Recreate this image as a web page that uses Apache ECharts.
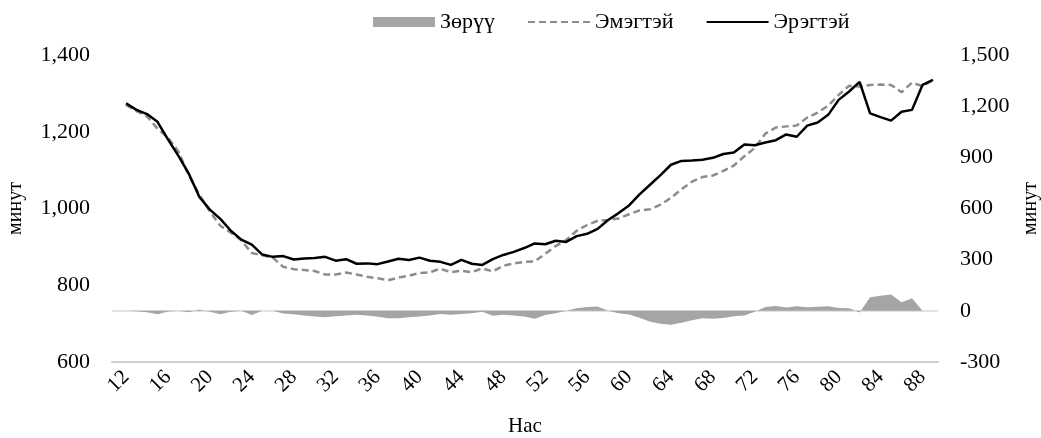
<!DOCTYPE html>
<html>
<head>
<meta charset="utf-8">
<script src="https://cdn.jsdelivr.net/npm/echarts@6/dist/echarts.min.js"></script>
<style>
html,body{margin:0;padding:0;background:#fff;}
#chart{width:1041px;height:438px;}
</style>
</head>
<body>
<div id="chart"></div>
<script>
// Ages 12..89
const ages = [];
for (let a = 12; a <= 89; a++) ages.push(a);
const xTickLabels = [12,16,20,24,28,32,36,40,44,48,52,56,60,64,68,72,76,80,84,88];

const seriesNames = ['Зөрүү', 'Эмэгтэй', 'Эрэгтэй'];

const male = [1274,1257,1246,1226,1180,1137,1090,1030,997,973,
  942,919,906,880,874,876,867,870,871,874,
  864,868,856,857,855,862,869,866,872,864,
  861,853,866,856,853,868,879,887,897,909,
  907,916,913,928,934,947,970,988,1008,1037,
  1062,1087,1114,1124,1125,1127,1132,1142,1146,1167,
  1165,1172,1178,1193,1187,1216,1224,1244,1283,1305,
  1330,1248,1238,1229,1252,1257,1322,1335];

const female = [1270,1254,1240,1208,1185,1148,1086,1036,992,955,
  937,917,884,878,872,848,842,840,837,828,
  828,833,828,822,818,813,820,825,832,834,
  843,834,838,834,844,836,851,857,861,862,
  882,902,918,942,957,968,970,974,985,995,
  998,1010,1028,1050,1070,1082,1086,1098,1112,1136,
  1158,1195,1211,1214,1216,1237,1250,1268,1296,1320,
  1318,1322,1323,1322,1303,1328,1319,1334];

const diff = [0,-3,-8,-20,-4,0,-8,8,-6,-20,
  -5,0,-25,0,0,-15,-20,-28,-33,-38,
  -32,-27,-23,-28,-35,-44,-43,-37,-33,-27,
  -18,-23,-19,-14,-6,-29,-23,-27,-33,-47,
  -25,-14,0,15,22,25,0,-14,-22,-40,
  -64,-75,-82,-70,-55,-43,-47,-42,-32,-28,
  -5,22,29,20,27,21,24,27,16,15,
  -10,80,88,96,51,74,0,3];

const leftTicks = {min: 600, max: 1400, interval: 200};
const rightTicks = {min: -300, max: 1500, interval: 300};

const font = 'Liberation Serif, Times New Roman, serif';
const fmt = v => v.toLocaleString('en-US');
const lineGray = '#d9d9d9';
const clear = 'rgba(0,0,0,0)';

const chart = echarts.init(document.getElementById('chart'), null, {renderer: 'canvas'});
chart.setOption({
  animation: false,
  backgroundColor: '#ffffff',
  textStyle: {fontFamily: font, color: '#000'},
  legend: {
    top: 6,
    left: 368,
    itemWidth: 62,
    itemHeight: 10,
    itemGap: 32,
    textStyle: {fontFamily: font, fontSize: 22, color: '#000'},
    data: [
      {name: seriesNames[0], icon: 'rect', itemStyle: {color: '#a5a5a5'}},
      {name: seriesNames[1], itemStyle: {opacity: 0}},
      {name: seriesNames[2], itemStyle: {opacity: 0}}
    ]
  },
  grid: {left: 112, right: 103, top: 55, bottom: 76, containLabel: false, outerBoundsMode: 'none'},
  xAxis: {
    type: 'value',
    position: 'bottom',
    min: 10.66,
    max: 89.48,
    name: 'Нас',
    nameLocation: 'middle',
    nameGap: 54,
    nameTextStyle: {fontFamily: font, fontSize: 21, color: '#000'},
    axisLine: {show: true, onZero: false, lineStyle: {color: '#d0d0d0', width: 2}},
    axisTick: {show: false, customValues: xTickLabels},
    splitLine: {show: false},
    axisLabel: {
      customValues: xTickLabels,
      rotate: 45,
      margin: 12,
      fontFamily: font, fontSize: 21, color: '#000'
    }
  },
  yAxis: [
    {
      type: 'value',
      min: leftTicks.min, max: leftTicks.max, interval: leftTicks.interval,
      name: 'минут',
      nameLocation: 'middle',
      nameRotate: 90,
      nameGap: 86,
      nameTextStyle: {fontFamily: font, fontSize: 20, color: '#000'},
      axisLine: {show: false}, axisTick: {show: false},
      splitLine: {show: true, showMinLine: true, showMaxLine: false,
        lineStyle: {width: 2, color: ['#d0d0d0', clear, clear, clear, clear]}},
      axisLabel: {margin: 22, fontFamily: font, fontSize: 22, color: '#000', formatter: fmt}
    },
    {
      type: 'value',
      min: rightTicks.min, max: rightTicks.max, interval: rightTicks.interval,
      name: 'минут',
      nameLocation: 'middle',
      nameRotate: 90,
      nameGap: 80,
      nameTextStyle: {fontFamily: font, fontSize: 20, color: '#000'},
      axisLine: {show: false}, axisTick: {show: false},
      splitLine: {show: true, lineStyle: {width: 1.5, color: [clear, lineGray, clear, clear, clear, clear, clear]}},
      axisLabel: {margin: 22, fontFamily: font, fontSize: 22, color: '#000', formatter: fmt}
    }
  ],
  series: [
    {
      name: seriesNames[0],
      type: 'line',
      yAxisIndex: 1,
      data: ages.map((a, i) => [a, diff[i]]),
      symbol: 'none',
      lineStyle: {width: 0, color: '#a5a5a5'},
      itemStyle: {color: '#a5a5a5'},
      areaStyle: {color: '#a5a5a5', opacity: 1, origin: 0},
      z: 3
    },
    {
      name: seriesNames[1],
      type: 'line',
      yAxisIndex: 0,
      data: ages.map((a, i) => [a, female[i]]),
      symbol: 'none',
      lineStyle: {width: 2.5, color: '#8c8c8c', type: [7, 4]},
      itemStyle: {color: '#8c8c8c'},
      z: 4
    },
    {
      name: seriesNames[2],
      type: 'line',
      yAxisIndex: 0,
      data: ages.map((a, i) => [a, male[i]]),
      symbol: 'none',
      lineStyle: {width: 2.5, color: '#000000'},
      itemStyle: {color: '#000000'},
      z: 5
    }
  ]
});
</script>
</body>
</html>
